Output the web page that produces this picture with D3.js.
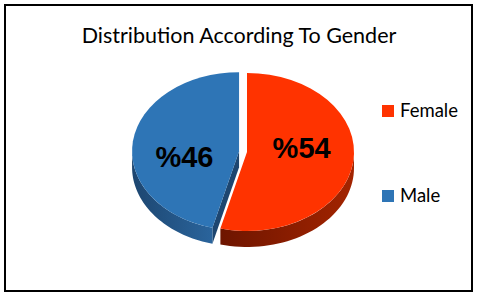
<!DOCTYPE html>
<html>
<head>
<meta charset="utf-8">
<script src="https://cdn.jsdelivr.net/npm/d3@7"></script>
<style>
	body { margin: 0; background: #fff; }
	svg { display: block; }
</style>
</head>
<body>
<div id="chart"></div>
<script>
var categories = ["Female", "Male"];
var values = [54, 46];
var labels = ["%54", "%46"];
var colors = ["#ff3300", "#2e75b6"];
var sideColors = [["#6e1500", "#a32400"], ["#1d4670", "#2a649c"]];
var explode = [0, 8];

var width = 480, height = 299;
var cx = 247, cy = 152,	/*pie centre*/
	rx = 107, ry = 79,		/*ellipse radii of the top face*/
	depth = 16;				/*thickness of the pie*/

var svg = d3.select("#chart").append("svg")
	.attr("width", width)
	.attr("height", height);

var defs = svg.append("defs");
sideColors.forEach(function (c, i) {
	var g = defs.append("linearGradient").attr("id", "side" + i)
		.attr("x1", "0%").attr("x2", "100%").attr("y1", "0%").attr("y2", "0%");
	g.append("stop").attr("offset", "0%").attr("stop-color", c[0]);
	g.append("stop").attr("offset", "100%").attr("stop-color", c[1]);
});

svg.append("rect")
	.attr("x", 5).attr("y", 5)
	.attr("width", 467).attr("height", 286)
	.attr("fill", "#fff")
	.attr("stroke", "#000")
	.attr("stroke-width", 2);

svg.append("text")
	.attr("x", 239).attr("y", 43)
	.attr("text-anchor", "middle")
	.attr("font-family", "Lato, 'Open Sans', sans-serif")
	.attr("font-size", 21.5)
	.attr("fill", "#000")
	.text("Distribution According To Gender");

var data = categories.map(function (c, i) { return { name: c, value: values[i], i: i }; });
var pie = d3.pie().sort(null).value(function (d) { return d.value; });
var slices = pie(data);

// offset of each slice along its middle angle
slices.forEach(function (s) {
	var mid = (s.startAngle + s.endAngle) / 2;
	s.dx = Math.sin(mid) * explode[s.data.i];
	s.dy = -Math.cos(mid) * explode[s.data.i] * ry / rx;
});

function pt(s, a, down) {
	return [cx + s.dx + rx * Math.sin(a), cy + s.dy - ry * Math.cos(a) + (down ? depth : 0)];
}

// outer rim, only the front half (angles between pi/2 and 3pi/2) shows
function rimPath(s) {
	var a0 = Math.max(s.startAngle, Math.PI / 2),
		a1 = Math.min(s.endAngle, 3 * Math.PI / 2);
	if (a1 <= a0) return null;
	var n = 40, top = [], bot = [];
	for (var k = 0; k <= n; k++) {
		var a = a0 + (a1 - a0) * k / n;
		top.push(pt(s, a, false));
		bot.push(pt(s, a, true));
	}
	return d3.line()(top.concat(bot.reverse())) + "Z";
}

var pieG = svg.append("g");

// cut face of the exploded slice at its start angle
slices.filter(function (s) { return explode[s.data.i] > 0; }).forEach(function (s) {
	var c = [cx + s.dx, cy + s.dy];
	var p = pt(s, s.startAngle, false);
	pieG.append("path")
		.attr("d", d3.line()([c, p, [p[0], p[1] + depth], [c[0], c[1] + depth]]) + "Z")
		.attr("fill", sideColors[s.data.i][0]);
});

slices.forEach(function (s) {
	var d = rimPath(s);
	if (d) pieG.append("path").attr("d", d).attr("fill", "url(#side" + s.data.i + ")");
});

var arc = d3.arc().innerRadius(0).outerRadius(rx);
pieG.selectAll("path.top")
	.data(slices)
	.enter().append("path")
	.attr("class", "top")
	.attr("transform", function (s) {
		return "translate(" + (cx + s.dx) + "," + (cy + s.dy) + ") scale(1," + (ry / rx) + ")";
	})
	.attr("d", arc)
	.attr("fill", function (s) { return colors[s.data.i]; });

// data labels, a bit rotated like Excel places them
var labelArc = d3.arc().innerRadius(55).outerRadius(55);
var turn = -14 * Math.PI / 180;
pieG.selectAll("text.lbl")
	.data(slices)
	.enter().append("text")
	.attr("class", "lbl")
	.attr("transform", function (s) {
		var c = labelArc.centroid({ startAngle: s.startAngle + turn, endAngle: s.endAngle + turn });
		return "translate(" + (cx + s.dx + c[0]) + "," + (cy + s.dy + c[1] * ry / rx) + ")";
	})
	.attr("text-anchor", "middle")
	.attr("dy", "0.36em")
	.attr("font-family", "'Liberation Sans', Arial, sans-serif")
	.attr("font-weight", "bold")
	.attr("font-size", 29)
	.attr("fill", "#000")
	.text(function (s) { return labels[s.data.i]; });

// legend
var legendY = d3.scalePoint().domain(categories).range([111, 196]);
var leg = svg.selectAll("g.leg")
	.data(categories)
	.enter().append("g")
	.attr("class", "leg")
	.attr("transform", function (d) { return "translate(382," + legendY(d) + ")"; });
leg.append("rect")
	.attr("x", 0).attr("y", -6)
	.attr("width", 12).attr("height", 12)
	.attr("fill", function (d, i) { return colors[i]; });
leg.append("text")
	.attr("x", 18).attr("y", 6)
	.attr("font-family", "Lato, 'Open Sans', sans-serif")
	.attr("font-size", 18.5)
	.attr("fill", "#000")
	.text(function (d) { return d; });
</script>
</body>
</html>
